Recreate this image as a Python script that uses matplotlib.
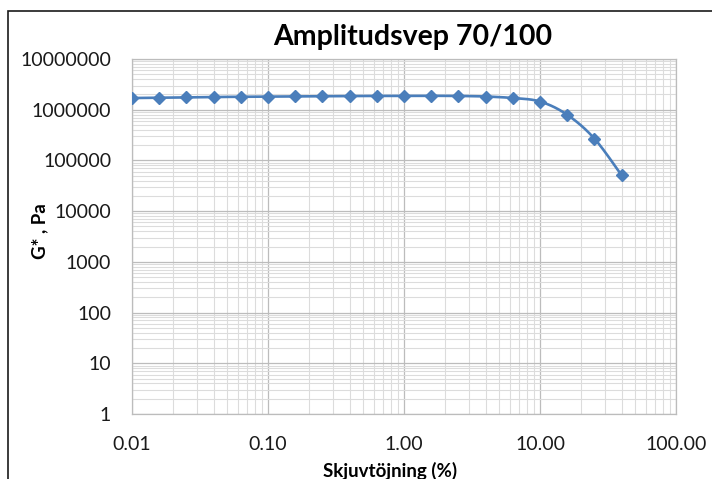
import numpy as np
import matplotlib
matplotlib.use("Agg")
import matplotlib.pyplot as plt
from matplotlib.patches import Rectangle
from matplotlib.ticker import FixedLocator, FixedFormatter, LogLocator, NullFormatter


# Data

strain = [0.01, 0.0158, 0.0251, 0.0398, 0.0631, 0.1, 0.158, 0.251, 0.398,
          0.631, 1.0, 1.585, 2.51, 3.98, 6.31, 10.0, 15.8, 25.1, 39.8]
g_star = [1.70e6, 1.72e6, 1.75e6, 1.78e6, 1.80e6, 1.82e6, 1.83e6, 1.84e6,
          1.86e6, 1.87e6, 1.88e6, 1.88e6, 1.87e6, 1.82e6, 1.70e6, 1.45e6,
          8.0e5, 2.7e5, 5.1e4]

x_ticks = [0.01, 0.1, 1, 10, 100]
x_tick_labels = ["0.01", "0.10", "1.00", "10.00", "100.00"]
y_ticks = [1, 10, 100, 1000, 10000, 100000, 1000000, 10000000]
y_tick_labels = ["1", "10", "100", "1000", "10000", "100000", "1000000", "10000000"]

TITLE = "Amplitudsvep 70/100"
X_LABEL = "Skjuvtöjning (%)"
Y_LABEL = "G* , Pa"

LINE_COLOR = "#4a7ebb"
MAJOR_GRID = "#bcbcbc"
MINOR_GRID = "#dcdcdc"

plt.rcParams["font.family"] = ["Lato", "DejaVu Sans"]


# Smooth line like Excel (Catmull-Rom in log space)

def smooth_curve(xs, ys, steps=20):

    lx = np.log10(xs)
    ly = np.log10(ys)
    pts = np.column_stack([lx, ly])
    pts = np.vstack([pts[0], pts, pts[-1]])

    out = []
    for i in range(1, len(pts) - 2):
        p0, p1, p2, p3 = pts[i - 1], pts[i], pts[i + 1], pts[i + 2]
        for t in np.linspace(0, 1, steps, endpoint=False):
            t2 = t * t
            t3 = t2 * t
            p = 0.5 * ((2 * p1) + (-p0 + p2) * t
                       + (2 * p0 - 5 * p1 + 4 * p2 - p3) * t2
                       + (-p0 + 3 * p1 - 3 * p2 + p3) * t3)
            out.append(p)
    out.append(pts[-2])
    out = np.array(out)

    return 10 ** out[:, 0], 10 ** out[:, 1]


fig = plt.figure(figsize=(7.12, 4.79), dpi=100)

ax = fig.add_axes([132 / 712, 1 - 414 / 479, 544 / 712, 355 / 479])

ax.set_xscale("log")
ax.set_yscale("log")
ax.set_xlim(0.01, 100)
ax.set_ylim(1, 10000000)

sx, sy = smooth_curve(strain, g_star)
ax.plot(sx, sy, color=LINE_COLOR, linewidth=1.9, zorder=3)
ax.plot(strain, g_star, linestyle="none", marker="D", markersize=6.3,
        color=LINE_COLOR, zorder=4)

ax.xaxis.set_major_locator(FixedLocator(x_ticks))
ax.xaxis.set_major_formatter(FixedFormatter(x_tick_labels))
ax.yaxis.set_major_locator(FixedLocator(y_ticks))
ax.yaxis.set_major_formatter(FixedFormatter(y_tick_labels))

ax.xaxis.set_minor_locator(LogLocator(base=10, subs=np.arange(2, 10)))
ax.yaxis.set_minor_locator(LogLocator(base=10, subs=np.arange(2, 10)))
ax.xaxis.set_minor_formatter(NullFormatter())
ax.yaxis.set_minor_formatter(NullFormatter())

ax.grid(True, which="major", color=MAJOR_GRID, linewidth=0.9)
ax.grid(True, which="minor", color=MINOR_GRID, linewidth=0.8)
ax.set_axisbelow(True)

for spine in ax.spines.values():
    spine.set_color(MAJOR_GRID)
    spine.set_linewidth(0.9)

ax.tick_params(which="both", length=0)
ax.tick_params(axis="y", pad=15, labelsize=14, colors="#1a1a1a")
ax.tick_params(axis="x", pad=16, labelsize=14, colors="#1a1a1a")

fig.text(413 / 712, 1 - 37 / 479, TITLE, ha="center", va="center",
         fontsize=20.5, fontweight="bold")

fig.text(40 / 712, 1 - 231 / 479, Y_LABEL, ha="center", va="center",
         rotation=90, fontsize=13.5, fontweight="bold")

fig.text(390 / 712, 1 - 471 / 479, X_LABEL, ha="center", va="center",
         fontsize=13.5, fontweight="bold")

# Outer chart border (cropped at right and bottom)
fig.patches.append(Rectangle((8 / 712, -0.05), 1.0, 1 - 11 / 479 + 0.05,
                             transform=fig.transFigure, fill=False,
                             edgecolor="#1a1a1a", linewidth=1.2))

fig.savefig("out.png", dpi=100)
